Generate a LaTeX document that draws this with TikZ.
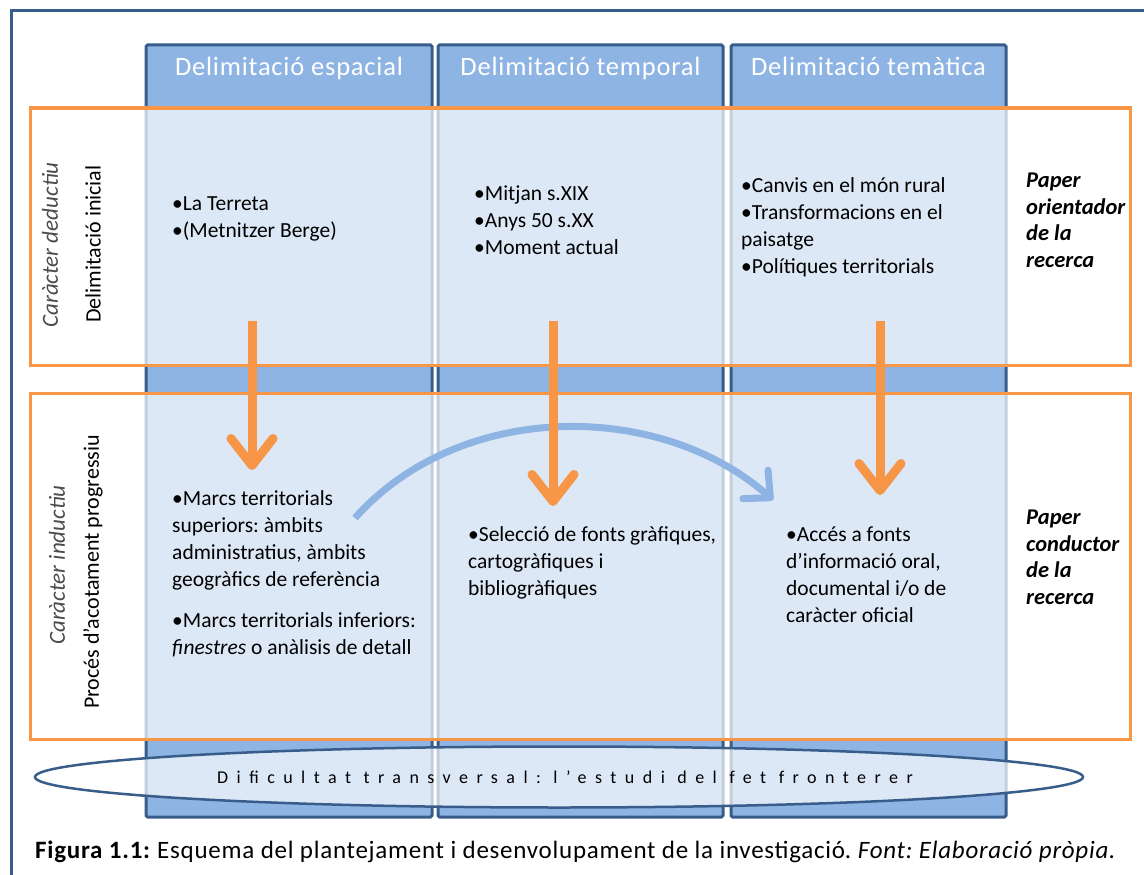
\documentclass[tikz,border=0pt]{standalone}
\usepackage{fontspec}
\setmainfont{Carlito}
\usetikzlibrary{shapes.geometric,arrows.meta}
\definecolor{dblue}{HTML}{385D8A}
\definecolor{mblue}{HTML}{8EB4E3}
\definecolor{orng}{HTML}{F79646}
\frenchspacing
\begin{document}
\begin{tikzpicture}[x=1pt,y=-1pt,
  colbox/.style={draw=dblue, line width=3pt, fill=mblue, rounded corners=1.5pt, minimum height=772pt, inner sep=0pt},
  band/.style={draw=orng, line width=3pt, fill=white, fill opacity=0.7, minimum width=1100pt, inner sep=0pt},
  head/.style={text=white, font=\fontsize{26.5}{30}\selectfont\addfontfeature{LetterSpace=3}, anchor=base, inner sep=0pt},
  body/.style={font=\fontsize{21.5}{27}\selectfont, align=left, anchor=base west, inner sep=0pt},
  role/.style={font=\fontsize{22.5}{26.4}\selectfont\bfseries\itshape, align=left, anchor=base west, inner sep=0pt},
  side/.style={rotate=90, font=\fontsize{22}{26}\selectfont, inner sep=0pt},
  sideit/.style={side, text=black!70, font=\fontsize{23}{26}\selectfont\itshape},
  oarrow/.style={orng, line width=9pt, -{Straight Barb[length=27pt, width=42pt, round]}},
  barrow/.style={mblue, line width=7pt, -{Straight Barb[length=20pt, width=38pt, round]}}]
\useasboundingbox (0,0) rectangle (1144,875);
\clip (0,0) rectangle (1144,875);
% outer frame
\draw[dblue, line width=3pt] (11,11) rectangle (1200,920);
% columns
\node[colbox, minimum width=286pt] (c1) at (289,431) {};
\node[colbox, minimum width=285pt] (c2) at (580.5,431) {};
\node[colbox, minimum width=275pt] (c3) at (868.5,431) {};
% headers
\node[head] (h1) at (289,76) {Delimitació espacial};
\node[head] (h2) at (580.5,76) {Delimitació temporal};
\node[head] (h3) at (868.5,76) {Delimitació temàtica};
% orange bands
\node[band, minimum height=257pt] (r1) at (580,236.5) {};
\node[band, minimum height=346pt] (r2) at (580,566) {};
% ellipse
\node[ellipse, draw=dblue, line width=2.5pt, fill=white, fill opacity=0.7, minimum width=1048pt, minimum height=61pt, inner sep=0pt] (el) at (559,777) {};
\node[font=\fontsize{18}{20}\selectfont\addfontfeature{LetterSpace=47}, inner sep=0pt] (elt) at (565,777) {Dificultat transversal: l’estudi del fet fronterer};
% side labels
\node[sideit] (s1) at (50,245) {Caràcter deductiu};
\node[side] (s2) at (93,244) {Delimitació inicial};
\node[sideit] (s3) at (57,565) {Caràcter inductiu};
\node[side] (s4) at (93,572) {Procés d’acotament progressiu};
% blue arc
\coordinate (b1) at (355,518);
\coordinate (b2) at (773,500);
\draw[barrow] (b1) .. controls (460,400) and (660,400) .. (b2);
% orange arrows
\coordinate (o1s) at (252,321); \coordinate (o1e) at (252,470);
\coordinate (o2s) at (553,321); \coordinate (o2e) at (553,506);
\coordinate (o3s) at (880,321); \coordinate (o3e) at (880,495);
\draw[oarrow] (o1s) -- (o1e);
\draw[oarrow] (o2s) -- (o2e);
\draw[oarrow] (o3s) -- (o3e);
% texts (anchor = baseline of the last line)
\node[body] (t1) at (172,237) {•La Terreta\\•(Metnitzer Berge)};
\node[body] (t2) at (474,254) {•Mitjan s.XIX\\•Anys 50 s.XX\\•Moment actual};
\node[body] (t3) at (741,273) {•Canvis en el món rural\\•Transformacions en el\\paisatge\\•Polítiques territorials};
\node[role] (p1) at (1026,267) {Paper\\orientador\\de la\\recerca};
\node[body] (t4) at (172,654) {•Marcs territorials\\superiors: àmbits\\administratius, àmbits\\geogràfics de referència\\[14pt]•Marcs territorials inferiors:\\\textit{finestres} o anàlisis de detall};
\node[body] (t5) at (468,595) {•Selecció de fonts gràfiques,\\cartogràfiques i\\bibliogràfiques};
\node[body] (t6) at (786,622) {•Accés a fonts\\d’informació oral,\\documental i/o de\\caràcter oficial};
\node[role] (p2) at (1026,604) {Paper\\conductor\\de la\\recerca};
% caption
\node[font=\fontsize{25}{29}\selectfont\addfontfeature{LetterSpace=3}, anchor=base west, inner sep=0pt] (cap) at (35,858) {\textbf{Figura 1.1:} Esquema del plantejament i desenvolupament de la investigació\textit{. Font: Elaboració pròpia.}};
\end{tikzpicture}
\end{document}
